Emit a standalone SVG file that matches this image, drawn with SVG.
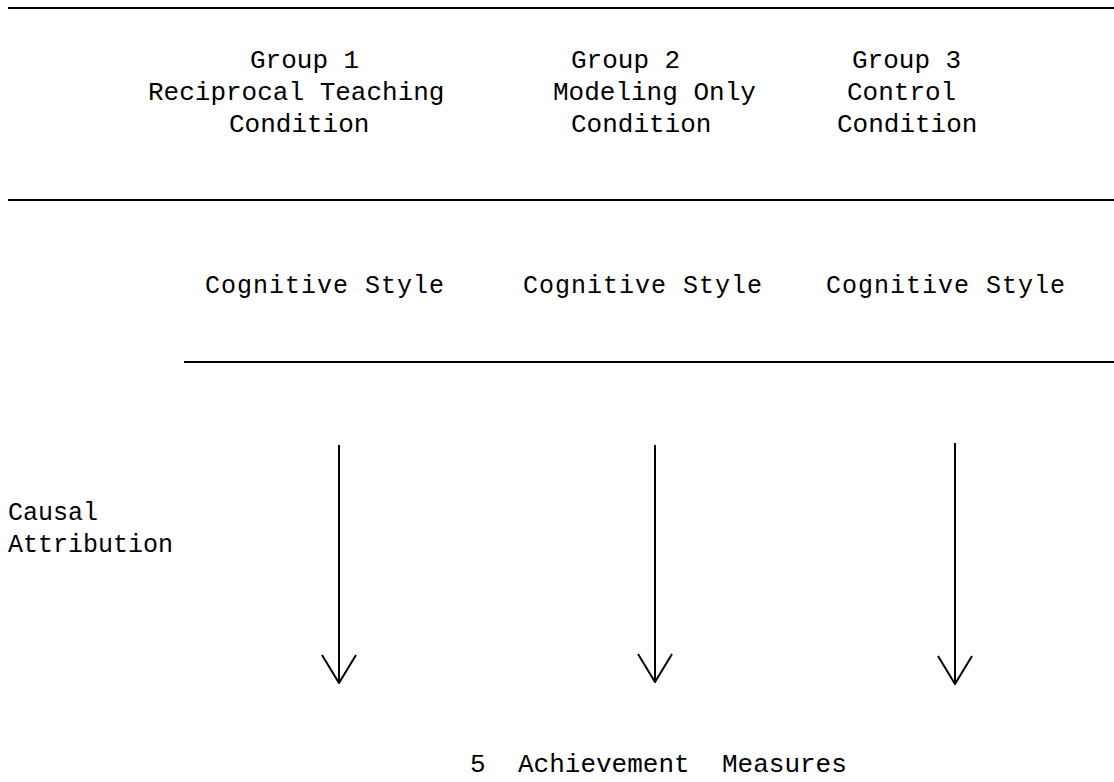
<svg xmlns="http://www.w3.org/2000/svg" width="1114" height="782" viewBox="0 0 1114 782">
<defs>
<style>
.t{font-family:"Liberation Mono","DejaVu Sans Mono",monospace;font-size:26px;fill:#000}
.c{font-family:"Liberation Mono","DejaVu Sans Mono",monospace;font-size:25px;fill:#000}
.cs{letter-spacing:1px}
.rule{stroke:#000;stroke-width:2;fill:none}
.arr{stroke:#000;stroke-width:2;fill:none}
</style>
<marker id="ah" viewBox="0 0 30 36" refX="29" refY="18" markerWidth="30" markerHeight="36" markerUnits="userSpaceOnUse" orient="auto">
<path d="M1 1 L29 18 L1 35" fill="none" stroke="#000" stroke-width="2"/>
</marker>
</defs>
<rect width="1114" height="782" fill="#fff"/>
<g id="rules">
<line class="rule" x1="8" y1="8" x2="1114" y2="8"/>
<line class="rule" x1="8" y1="200" x2="1114" y2="200"/>
<line class="rule" x1="184" y1="362" x2="1114" y2="362"/>
</g>
<g id="group1">
<text class="t" x="250" y="68">Group 1</text>
<text class="t" x="148" y="100">Reciprocal Teaching</text>
<text class="t" x="229" y="132">Condition</text>
</g>
<g id="group2">
<text class="t" x="571" y="68">Group 2</text>
<text class="t" x="553" y="100">Modeling Only</text>
<text class="t" x="571" y="132">Condition</text>
</g>
<g id="group3">
<text class="t" x="852" y="68">Group 3</text>
<text class="t" x="847" y="100">Control</text>
<text class="t" x="837" y="132">Condition</text>
</g>
<g id="cs1"><text class="c cs" x="205" y="293">Cognitive Style</text></g>
<g id="cs2"><text class="c cs" x="523" y="293">Cognitive Style</text></g>
<g id="cs3"><text class="c cs" x="826" y="293">Cognitive Style</text></g>
<g id="causal">
<text class="c" x="8" y="520">Causal</text>
<text class="c" x="8" y="552">Attribution</text>
</g>
<g id="connectors">
<line class="arr" x1="339" y1="445" x2="339" y2="683" marker-end="url(#ah)"/>
<line class="arr" x1="655" y1="445" x2="655" y2="682" marker-end="url(#ah)"/>
<line class="arr" x1="955" y1="443" x2="955" y2="684" marker-end="url(#ah)"/>
</g>
<g id="measures">
<text class="t" x="470" y="772">5</text>
<text class="t" x="518" y="772">Achievement</text>
<text class="t" x="722" y="772">Measures</text>
</g>
</svg>
